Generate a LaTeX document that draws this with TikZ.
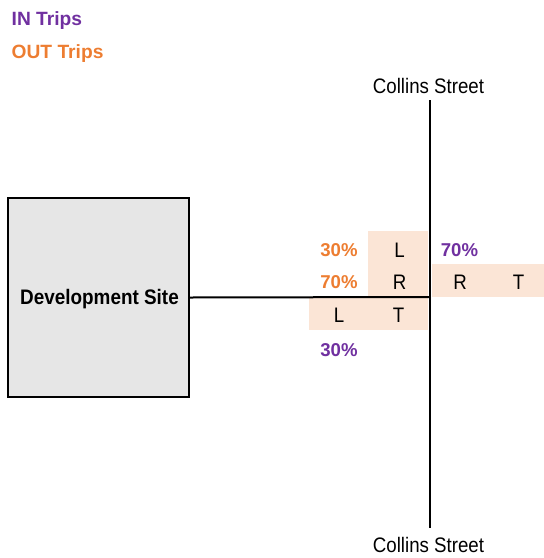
\documentclass[tikz,border=0pt]{standalone}
\usepackage{fontspec}
\setmainfont{Liberation Sans}
\newfontfamily\narrowreg[FakeStretch=0.89]{Liberation Sans}
\newfontfamily\narrowbold[FakeStretch=0.90]{Liberation Sans Bold}
\definecolor{inpurple}{HTML}{7030A0}
\definecolor{outorange}{HTML}{ED7D31}
\definecolor{cellshade}{HTML}{FBE5D6}
\definecolor{sitegrey}{HTML}{E6E6E6}
\begin{document}
\begin{tikzpicture}[x=1pt,y=-1pt,
  txt/.style={inner sep=0pt, anchor=base, font=\fontsize{21}{24}\selectfont\narrowreg},
  pct/.style={inner sep=0pt, anchor=base, font=\fontsize{18.6}{22}\selectfont\bfseries},
  legend/.style={inner sep=0pt, anchor=base west, font=\fontsize{19.2}{22}\selectfont\bfseries},
  cell/.style={fill=cellshade, draw=none, inner sep=0pt, outer sep=0pt, anchor=north west},
  road/.style={draw=black, line width=2pt},
]
\useasboundingbox (0,0) rectangle (544,558);
% legend
\node[legend, text=inpurple] (legin) at (11.5,25.2) {IN Trips};
\node[legend, text=outorange] (legout) at (11.5,58.7) {OUT Trips};
% shaded cells
\node[cell, minimum width=60pt, minimum height=66pt] (cellA) at (368,231) {};
\node[cell, minimum width=112pt, minimum height=33pt] (cellB) at (432,264) {};
\node[cell, minimum width=119pt, minimum height=32pt] (cellC) at (309,298) {};
% site
\node[draw=black, line width=2pt, fill=sitegrey, minimum width=181pt, minimum height=199pt, inner sep=0pt] (site) at (98.5,297.5) {};
\node[inner sep=0pt, anchor=base, font=\fontsize{21}{24}\selectfont\narrowbold] (sitelabel) at (99.5,304) {Development Site};
% roads
\coordinate (ntop) at (430,100);
\coordinate (nbot) at (430,528);
\coordinate (junc) at (430,297);
\draw[road] (site.east) -- (junc);
\draw[road] (ntop) -- (nbot);
\node[txt] (stN) at (428.5,93) {Collins Street};
\node[txt] (stS) at (428.5,552.5) {Collins Street};
% movement letters
\node[txt] (l1) at (399.5,257) {L};
\node[txt] (r1) at (399.5,289) {R};
\node[txt] (r2) at (460,289) {R};
\node[txt] (t2) at (518.7,289) {T};
\node[txt] (l3) at (339,322) {L};
\node[txt] (t3) at (398.5,322) {T};
% percentages
\node[pct, text=outorange] (p1) at (339,256.7) {30\%};
\node[pct, text=outorange] (p2) at (339,288.5) {70\%};
\node[pct, text=inpurple] (p3) at (459.5,256.7) {70\%};
\node[pct, text=inpurple] (p4) at (339,356) {30\%};
\end{tikzpicture}
\end{document}
